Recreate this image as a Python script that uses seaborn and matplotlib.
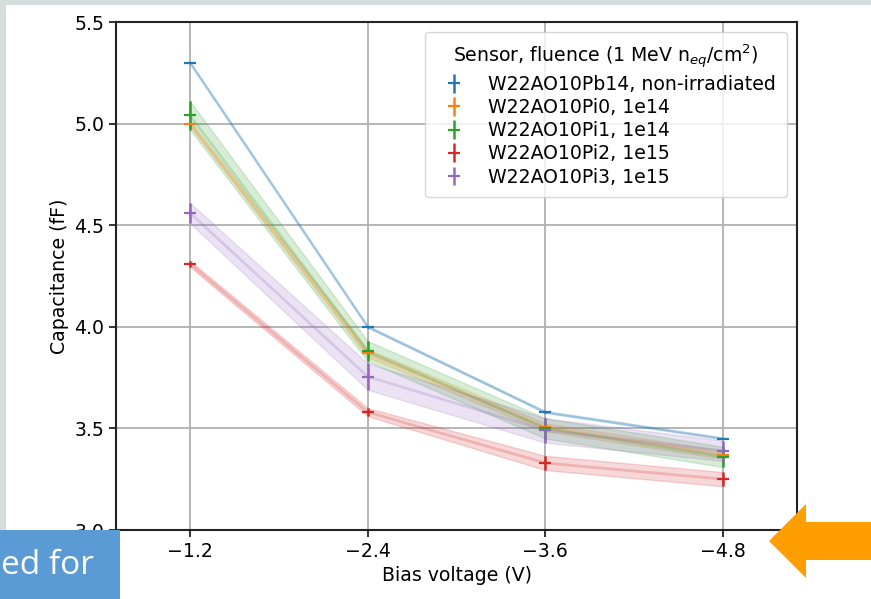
import numpy as np
import pandas as pd
import seaborn as sns
import matplotlib.pyplot as plt
from matplotlib.patches import Polygon, Rectangle

# bias voltages (V)
voltages = [-1.2, -2.4, -3.6, -4.8]

sensors = [
    "W22AO10Pb14, non-irradiated",
    "W22AO10Pi0, 1e14",
    "W22AO10Pi1, 1e14",
    "W22AO10Pi2, 1e15",
    "W22AO10Pi3, 1e15",
]

# capacitance (fF) per sensor
cap_pb14 = [5.30, 4.00, 3.58, 3.45]
cap_pi0 = [5.00, 3.87, 3.505, 3.37]
cap_pi1 = [5.04, 3.88, 3.50, 3.36]
cap_pi2 = [4.31, 3.58, 3.33, 3.25]
cap_pi3 = [4.56, 3.755, 3.49, 3.39]

# uncertainties (fF)
err_pb14 = [0.004, 0.004, 0.004, 0.004]
err_pi0 = [0.012, 0.02, 0.02, 0.02]
err_pi1 = [0.07, 0.05, 0.05, 0.05]
err_pi2 = [0.015, 0.02, 0.035, 0.035]
err_pi3 = [0.05, 0.065, 0.06, 0.05]

caps = [cap_pb14, cap_pi0, cap_pi1, cap_pi2, cap_pi3]
errs = [err_pb14, err_pi0, err_pi1, err_pi2, err_pi3]

W, H = 871, 599
FS = 13.6


def fx(px):
    return px / W


def fy(py):
    return 1 - py / H


def main():
    sns.set_style("ticks")
    plt.rcParams['font.family'] = ['DejaVu Sans']
    plt.rcParams['font.size'] = FS
    for k in ['text.color', 'axes.labelcolor', 'xtick.color', 'ytick.color']:
        plt.rcParams[k] = 'black'

    rows = []
    for name, c, e in zip(sensors, caps, errs):
        for v, ci, ei in zip(voltages, c, e):
            rows.append({"voltage": v, "cap": ci, "err": ei, "sensor": name})
    df = pd.DataFrame(rows)

    colors = sns.color_palette("tab10", len(sensors))

    fig = plt.figure(figsize=(W / 100, H / 100), dpi=100)
    ax = fig.add_axes([fx(116), fy(530), fx(797) - fx(116), fy(22) - fy(530)])

    # faint connecting lines
    sns.lineplot(data=df, x="voltage", y="cap", hue="sensor", palette=colors,
                 ax=ax, alpha=0.22, linewidth=2.0, legend=False, estimator=None,
                 sort=False)

    for name, col in zip(sensors, colors):
        sub = df[df["sensor"] == name]
        ax.fill_between(sub["voltage"], sub["cap"] - sub["err"], sub["cap"] + sub["err"],
                        color=col, alpha=0.18, linewidth=1)
        ax.errorbar(sub["voltage"], sub["cap"], yerr=sub["err"], fmt="_", color=col,
                    markersize=8, markeredgewidth=1.6, elinewidth=1.8, label=name)

    ax.set_xlim(-0.7, -5.3)
    ax.set_ylim(3.0, 5.5)
    ax.set_xticks(voltages)
    ax.set_yticks([3.0, 3.5, 4.0, 4.5, 5.0, 5.5])
    ax.grid(True, color="#b0b0b0", linewidth=1.3)
    ax.set_axisbelow(True)
    for s in ax.spines.values():
        s.set_linewidth(1.5)
        s.set_color("#222222")
    ax.tick_params(length=5, width=1.3, labelsize=FS, color="#222222")
    ax.set_xlabel("Bias voltage (V)", fontsize=FS)
    ax.set_ylabel("Capacitance (fF)", fontsize=FS)

    leg = ax.legend(title=r"Sensor, fluence (1 MeV n$_{eq}$/cm$^2$)", loc="upper right",
                    fontsize=FS, title_fontsize=FS, frameon=True, framealpha=0.8,
                    borderaxespad=0.55, borderpad=0.55, handletextpad=0.8, labelspacing=0.22)
    leg.get_frame().set_edgecolor("#cccccc")

    # slide decorations around the screenshot
    gray = "#d3dedc"
    fig.patches.append(Rectangle((0, fy(5)), 1, 1 - fy(5), transform=fig.transFigure,
                                 facecolor=gray, edgecolor="none", zorder=-1))
    fig.patches.append(Rectangle((0, fy(530)), fx(6), fy(0) - fy(530), transform=fig.transFigure,
                                 facecolor=gray, edgecolor="none", zorder=-1))
    fig.patches.append(Rectangle((0, 0), fx(120), fy(530), transform=fig.transFigure,
                                 facecolor="#5b9bd5", edgecolor="none", zorder=5))
    fig.text(fx(1), fy(566), "ed for", color="white", fontsize=24, family="Open Sans",
             ha="left", va="center", zorder=6)
    arrow = [(769, 541), (806, 504), (806, 522), (871, 522), (871, 560), (806, 560), (806, 578)]
    fig.patches.append(Polygon([(fx(a), fy(b)) for a, b in arrow], closed=True,
                               transform=fig.transFigure, facecolor="#ff9e00",
                               edgecolor="none", zorder=5))

    fig.savefig("out.png", dpi=100)
    plt.close(fig)


if __name__ == "__main__":
    main()
